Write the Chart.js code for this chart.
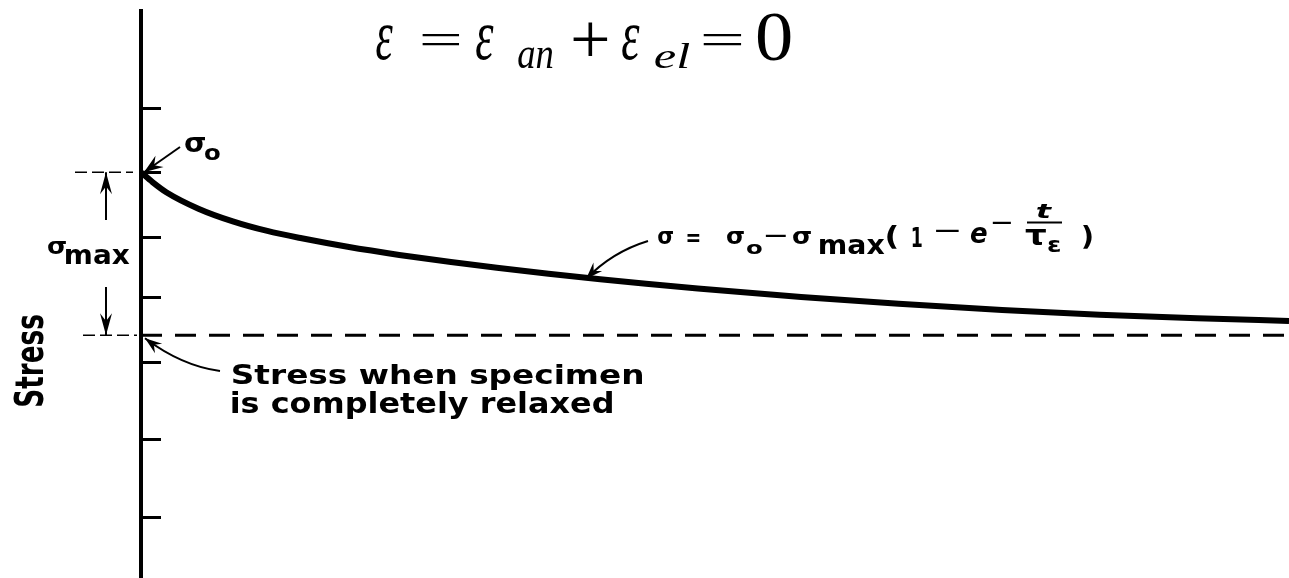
<!DOCTYPE html>
<html>
<head>
<meta charset="utf-8">
<title>Stress relaxation</title>
<script src="https://cdn.jsdelivr.net/npm/chart.js@4/dist/chart.umd.min.js"></script>
<style>
    html, body { margin: 0; padding: 0; background: #fff; }
    #chart { display: block; }
</style>
</head>
<body>
<canvas id="chart" width="1289" height="578"></canvas>
<script>
// curve values (time in % of the plotted span, stress with relaxed = 0, sigma0 = 100)
const timeValues = [0, 1, 2.2, 5, 8, 11, 14, 18, 22.5, 27, 31, 35.5, 40, 44, 48.5, 57.5, 66, 75, 83.5, 92, 100];
const stressValues = [100, 94, 87.8, 77.7, 69.9, 64.0, 59.5, 54.3, 49.3, 44.9, 41.4, 37.8, 34.4, 31.6, 28.7, 23.5, 19.3, 15.5, 12.6, 10.4, 8.8];
const relaxedTime = [0, 100];
const relaxedStress = [0, 0];
const stressTicks = [139, 100, 60, 23, -17, -64, -112];
const sigma0 = 100;
const sigmaRelaxed = 0;

const LETTER = "'DejaVu Sans', sans-serif";
const SERIF = "'Liberation Serif', 'Times New Roman', serif";

// draw a string so its ink fills the given box
function fitBox(ctx, str, x0, y0, x1, y1, font) {
    ctx.font = font;
    const m = ctx.measureText(str);
    const w = m.actualBoundingBoxLeft + m.actualBoundingBoxRight;
    const h = m.actualBoundingBoxAscent + m.actualBoundingBoxDescent;
    const sx = (x1 - x0) / w, sy = (y1 - y0) / h;
    ctx.save();
    ctx.translate(x0 + m.actualBoundingBoxLeft * sx, y0 + m.actualBoundingBoxAscent * sy);
    ctx.scale(sx, sy);
    ctx.fillText(str, 0, 0);
    ctx.restore();
}

function arrowHead(ctx, tipX, tipY, fromX, fromY, len, half) {
    const a = Math.atan2(tipY - fromY, tipX - fromX);
    const c = Math.cos(a), s = Math.sin(a);
    ctx.beginPath();
    ctx.moveTo(tipX, tipY);
    ctx.lineTo(tipX - len * c + half * s, tipY - len * s - half * c);
    ctx.lineTo(tipX - len * 0.65 * c, tipY - len * 0.65 * s);
    ctx.lineTo(tipX - len * c - half * s, tipY - len * s + half * c);
    ctx.closePath();
    ctx.fill();
}

function curvedArrow(ctx, fx, fy, cx, cy, tx, ty) {
    ctx.beginPath();
    ctx.moveTo(fx, fy);
    ctx.quadraticCurveTo(cx, cy, tx, ty);
    ctx.stroke();
    arrowHead(ctx, tx, ty, cx, cy, 17, 6);
}

const annotations = {
    id: 'annotations',
    afterDraw(chart) {
        const ctx = chart.ctx;
        const xs = chart.scales.x, ys = chart.scales.y;
        const x0 = xs.getPixelForValue(0);
        const yTop = ys.getPixelForValue(sigma0);
        const yRel = ys.getPixelForValue(sigmaRelaxed);
        ctx.save();
        ctx.fillStyle = '#000';
        ctx.strokeStyle = '#000';
        ctx.textBaseline = 'alphabetic';
        ctx.textAlign = 'left';

        // heading  ε = ε an + ε el = 0
        const big = '72px ' + SERIF, bigI = 'italic 72px ' + SERIF, subI = 'italic 44px ' + SERIF;
        fitBox(ctx, 'ε', 376, 25, 393, 60, bigI);
        fitBox(ctx, '=', 422, 34, 460, 45, big);
        fitBox(ctx, 'ε', 476, 25, 494, 60, bigI);
        fitBox(ctx, 'an', 518, 47, 553, 68, subI);
        fitBox(ctx, '+', 573, 22, 608, 56, big);
        fitBox(ctx, 'ε', 622, 25, 640, 60, bigI);
        fitBox(ctx, 'el', 655, 43, 690, 68, subI);
        fitBox(ctx, '=', 703, 34, 742, 45, big);
        fitBox(ctx, '0', 757, 13, 791, 61, big);

        // curve formula
        const f = 'bold 26px ' + LETTER, fi = 'italic bold 26px ' + LETTER;
        fitBox(ctx, 'σ', 658, 231, 673, 244, f);
        fitBox(ctx, '=', 687, 232, 700, 241, f);
        fitBox(ctx, 'σ', 727, 231, 744, 244, f);
        fitBox(ctx, 'o', 747, 244, 762, 254, f);
        fitBox(ctx, '−', 765, 234, 787, 237, f);
        fitBox(ctx, 'σ', 793, 231, 811, 244, f);
        fitBox(ctx, 'max', 820, 239, 885, 254, f);
        fitBox(ctx, '(', 887, 225, 897, 249, f);
        fitBox(ctx, '1', 912, 227, 922, 247, f);
        fitBox(ctx, '−', 935, 229, 960, 232, f);
        fitBox(ctx, 'e', 970, 227, 987, 243, fi);
        fitBox(ctx, '−', 992, 221, 1012, 224, f);
        fitBox(ctx, 't', 1037, 204, 1053, 218, fi);
        ctx.lineWidth = 2;
        ctx.beginPath(); ctx.moveTo(1027, 222.5); ctx.lineTo(1062, 222.5); ctx.stroke();
        fitBox(ctx, 'τ', 1025, 229, 1046, 245, f);
        fitBox(ctx, 'ε', 1048, 240, 1060, 252, f);
        fitBox(ctx, ')', 1083, 225, 1092, 249, f);
        curvedArrow(ctx, 648, 241, 612, 252, 586, 279);

        // sigma0 label and arrow
        fitBox(ctx, 'σ', 185, 137, 205, 152, f);
        fitBox(ctx, 'o', 205, 148, 220, 160, f);
        ctx.lineWidth = 2;
        ctx.beginPath(); ctx.moveTo(180, 147); ctx.lineTo(x0 + 3, yTop); ctx.stroke();
        arrowHead(ctx, x0 + 3, yTop, 180, 147, 19, 7);

        // sigma max dimension
        ctx.lineWidth = 1.5;
        ctx.setLineDash([12, 5]);
        ctx.beginPath(); ctx.moveTo(75, yTop); ctx.lineTo(133, yTop); ctx.stroke();
        ctx.beginPath(); ctx.moveTo(83, yRel); ctx.lineTo(137, yRel); ctx.stroke();
        ctx.setLineDash([]);
        ctx.lineWidth = 2;
        ctx.beginPath(); ctx.moveTo(106, 220); ctx.lineTo(106, yTop); ctx.stroke();
        arrowHead(ctx, 106, yTop, 106, 220, 22, 6);
        ctx.beginPath(); ctx.moveTo(106, 287); ctx.lineTo(106, yRel); ctx.stroke();
        arrowHead(ctx, 106, yRel, 106, 287, 22, 6);
        fitBox(ctx, 'σ', 48, 241, 66, 254, f);
        fitBox(ctx, 'max', 66, 249, 130, 264, f);

        // relaxed note
        ctx.lineWidth = 2;
        curvedArrow(ctx, 220, 371, 182, 366, x0 + 4, yRel + 3);
        fitBox(ctx, 'Stress when specimen', 232, 364, 643, 390, 'bold 27px ' + LETTER);
        fitBox(ctx, 'is completely relaxed', 232, 392, 613, 419, 'bold 27px ' + LETTER);

        // axis title
        ctx.save();
        ctx.translate(43, 406);
        ctx.rotate(-Math.PI / 2);
        fitBox(ctx, 'Stress', 0, -28, 91, 0, 'bold 32px ' + LETTER);
        ctx.restore();

        ctx.restore();
    }
};

new Chart(document.getElementById('chart'), {
    type: 'line',
    data: {
        datasets: [
            {
                label: 'σ',
                data: timeValues.map((t, i) => ({ x: t, y: stressValues[i] })),
                borderColor: '#000',
                borderWidth: 6,
                pointRadius: 0,
                cubicInterpolationMode: 'monotone'
            },
            {
                label: 'relaxed',
                data: relaxedTime.map((t, i) => ({ x: t, y: relaxedStress[i] })),
                borderColor: '#000',
                borderWidth: 3,
                borderDash: [21, 13],
                pointRadius: 0
            }
        ]
    },
    options: {
        responsive: false,
        animation: false,
        devicePixelRatio: 1,
        layout: { padding: { top: 11, left: 0, right: 0, bottom: 0 } },
        plugins: { legend: { display: false }, tooltip: { enabled: false } },
        scales: {
            x: { type: 'linear', min: 0, max: 100, display: false },
            y: {
                type: 'linear',
                min: -149,
                max: 199,
                afterBuildTicks: (scale) => { scale.ticks = stressTicks.map(v => ({ value: v })); },
                afterFit: (scale) => { scale.width = 141; },
                ticks: { display: false },
                grid: { drawOnChartArea: false, drawTicks: true, tickLength: -20, color: '#000', lineWidth: 3 },
                border: { display: true, color: '#000', width: 4 }
            }
        }
    },
    plugins: [annotations]
});
</script>
</body>
</html>
